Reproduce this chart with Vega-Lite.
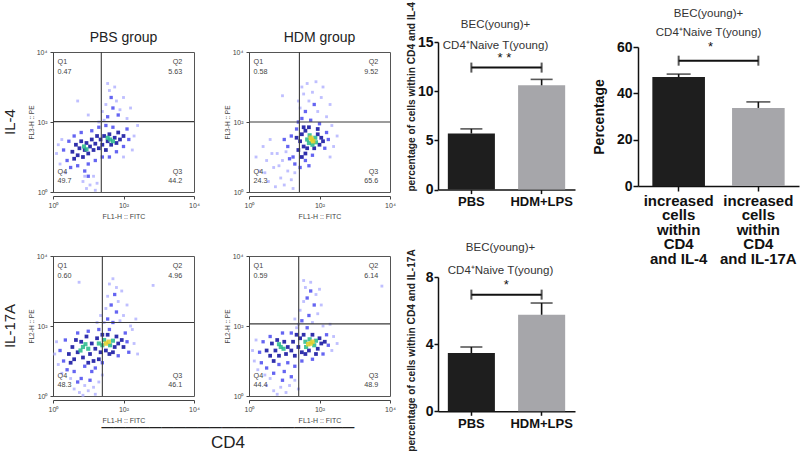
{
  "$schema": "https://vega.github.io/schema/vega-lite/v6.json",
  "background": "white",
  "padding": {"left": 3, "top": 0, "right": 2, "bottom": 2},
  "config": {
    "font": "Liberation Sans",
    "view": {"stroke": "#555", "strokeWidth": 1},
    "axis": {"grid": false}
  },
  "resolve": {"scale": {"color": "independent", "size": "independent"}},
  "datasets": {
    "cells": [
      {"group":"PBS group","marker":"IL-4","gate":"v","fitc":1.37},
      {"group":"PBS group","marker":"IL-4","gate":"h","pe":2.01},
      {"group":"HDM group","marker":"IL-4","gate":"v","fitc":1.43},
      {"group":"HDM group","marker":"IL-4","gate":"h","pe":2.0},
      {"group":"PBS group","marker":"IL-17A","gate":"v","fitc":1.4},
      {"group":"PBS group","marker":"IL-17A","gate":"h","pe":2.1},
      {"group":"HDM group","marker":"IL-17A","gate":"v","fitc":1.41},
      {"group":"HDM group","marker":"IL-17A","gate":"h","pe":2.06},
      {"group":"PBS group","marker":"IL-4","quad":"Q1","pct":"0.47"},
      {"group":"PBS group","marker":"IL-4","quad":"Q2","pct":"5.63"},
      {"group":"PBS group","marker":"IL-4","quad":"Q3","pct":"44.2"},
      {"group":"PBS group","marker":"IL-4","quad":"Q4","pct":"49.7"},
      {"group":"HDM group","marker":"IL-4","quad":"Q1","pct":"0.58"},
      {"group":"HDM group","marker":"IL-4","quad":"Q2","pct":"9.52"},
      {"group":"HDM group","marker":"IL-4","quad":"Q3","pct":"65.6"},
      {"group":"HDM group","marker":"IL-4","quad":"Q4","pct":"24.3"},
      {"group":"PBS group","marker":"IL-17A","quad":"Q1","pct":"0.60"},
      {"group":"PBS group","marker":"IL-17A","quad":"Q2","pct":"4.96"},
      {"group":"PBS group","marker":"IL-17A","quad":"Q3","pct":"46.1"},
      {"group":"PBS group","marker":"IL-17A","quad":"Q4","pct":"48.3"},
      {"group":"HDM group","marker":"IL-17A","quad":"Q1","pct":"0.59"},
      {"group":"HDM group","marker":"IL-17A","quad":"Q2","pct":"6.14"},
      {"group":"HDM group","marker":"IL-17A","quad":"Q3","pct":"48.9"},
      {"group":"HDM group","marker":"IL-17A","quad":"Q4","pct":"44.4"},

      {"group":"PBS group","marker":"IL-4","fitc":1.45,"pe":2.05,"dens":0},
      {"group":"PBS group","marker":"IL-4","fitc":1.5,"pe":2.5,"dens":0},
      {"group":"PBS group","marker":"IL-4","fitc":1.6,"pe":2.9,"dens":0},
      {"group":"PBS group","marker":"IL-4","fitc":1.75,"pe":3.0,"dens":0},
      {"group":"PBS group","marker":"IL-4","fitc":1.8,"pe":2.6,"dens":0},
      {"group":"PBS group","marker":"IL-4","fitc":1.9,"pe":2.35,"dens":0},
      {"group":"PBS group","marker":"IL-4","fitc":2.0,"pe":2.7,"dens":0},
      {"group":"PBS group","marker":"IL-4","fitc":2.1,"pe":2.1,"dens":0},
      {"group":"PBS group","marker":"IL-4","fitc":1.55,"pe":3.1,"dens":0},
      {"group":"PBS group","marker":"IL-4","fitc":1.4,"pe":2.3,"dens":0},
      {"group":"PBS group","marker":"IL-4","fitc":2.2,"pe":2.4,"dens":0},
      {"group":"PBS group","marker":"IL-4","fitc":1.3,"pe":2.0,"dens":0},
      {"group":"PBS group","marker":"IL-4","fitc":0.85,"pe":0.3,"dens":0},
      {"group":"PBS group","marker":"IL-4","fitc":0.95,"pe":0.1,"dens":0},
      {"group":"PBS group","marker":"IL-4","fitc":1.05,"pe":0.2,"dens":0},
      {"group":"PBS group","marker":"IL-4","fitc":1.15,"pe":0.45,"dens":0},
      {"group":"PBS group","marker":"IL-4","fitc":1.25,"pe":0.25,"dens":0},
      {"group":"PBS group","marker":"IL-4","fitc":0.9,"pe":0.45,"dens":0},
      {"group":"PBS group","marker":"IL-4","fitc":1.2,"pe":0.05,"dens":0},
      {"group":"PBS group","marker":"IL-4","fitc":0.1,"pe":1.1,"dens":0},
      {"group":"PBS group","marker":"IL-4","fitc":0.2,"pe":0.8,"dens":0},
      {"group":"PBS group","marker":"IL-4","fitc":0.25,"pe":1.5,"dens":0},
      {"group":"PBS group","marker":"IL-4","fitc":0.35,"pe":0.55,"dens":0},
      {"group":"PBS group","marker":"IL-4","fitc":0.15,"pe":1.35,"dens":0},
      {"group":"PBS group","marker":"IL-4","fitc":2.3,"pe":1.6,"dens":0},
      {"group":"PBS group","marker":"IL-4","fitc":2.25,"pe":1.2,"dens":0},
      {"group":"PBS group","marker":"IL-4","fitc":2.4,"pe":1.9,"dens":0},
      {"group":"PBS group","marker":"IL-4","fitc":2.0,"pe":1.0,"dens":0},
      {"group":"PBS group","marker":"IL-4","fitc":0.7,"pe":2.6,"dens":0},
      {"group":"PBS group","marker":"IL-4","fitc":1.0,"pe":2.2,"dens":0},
      {"group":"PBS group","marker":"IL-4","fitc":0.3,"pe":1.2,"dens":1},
      {"group":"PBS group","marker":"IL-4","fitc":0.4,"pe":0.9,"dens":1},
      {"group":"PBS group","marker":"IL-4","fitc":0.45,"pe":1.45,"dens":1},
      {"group":"PBS group","marker":"IL-4","fitc":0.5,"pe":0.7,"dens":1},
      {"group":"PBS group","marker":"IL-4","fitc":0.6,"pe":1.6,"dens":1},
      {"group":"PBS group","marker":"IL-4","fitc":0.7,"pe":0.75,"dens":1},
      {"group":"PBS group","marker":"IL-4","fitc":0.8,"pe":1.7,"dens":1},
      {"group":"PBS group","marker":"IL-4","fitc":0.9,"pe":0.6,"dens":1},
      {"group":"PBS group","marker":"IL-4","fitc":1.0,"pe":0.8,"dens":1},
      {"group":"PBS group","marker":"IL-4","fitc":1.1,"pe":1.75,"dens":1},
      {"group":"PBS group","marker":"IL-4","fitc":1.2,"pe":0.9,"dens":1},
      {"group":"PBS group","marker":"IL-4","fitc":1.3,"pe":1.85,"dens":1},
      {"group":"PBS group","marker":"IL-4","fitc":1.4,"pe":1.0,"dens":1},
      {"group":"PBS group","marker":"IL-4","fitc":1.6,"pe":1.0,"dens":1},
      {"group":"PBS group","marker":"IL-4","fitc":1.7,"pe":1.85,"dens":1},
      {"group":"PBS group","marker":"IL-4","fitc":1.8,"pe":1.15,"dens":1},
      {"group":"PBS group","marker":"IL-4","fitc":2.0,"pe":1.3,"dens":1},
      {"group":"PBS group","marker":"IL-4","fitc":2.1,"pe":1.8,"dens":1},
      {"group":"PBS group","marker":"IL-4","fitc":2.15,"pe":1.5,"dens":1},
      {"group":"PBS group","marker":"IL-4","fitc":1.5,"pe":1.9,"dens":1},
      {"group":"PBS group","marker":"IL-4","fitc":1.55,"pe":2.15,"dens":1},
      {"group":"PBS group","marker":"IL-4","fitc":1.7,"pe":2.4,"dens":1},
      {"group":"PBS group","marker":"IL-4","fitc":1.85,"pe":2.2,"dens":1},
      {"group":"PBS group","marker":"IL-4","fitc":1.65,"pe":2.7,"dens":1},
      {"group":"PBS group","marker":"IL-4","fitc":1.0,"pe":0.45,"dens":1},
      {"group":"PBS group","marker":"IL-4","fitc":0.55,"pe":1.15,"dens":2},
      {"group":"PBS group","marker":"IL-4","fitc":0.65,"pe":1.35,"dens":2},
      {"group":"PBS group","marker":"IL-4","fitc":0.7,"pe":1.05,"dens":2},
      {"group":"PBS group","marker":"IL-4","fitc":0.75,"pe":1.25,"dens":2},
      {"group":"PBS group","marker":"IL-4","fitc":0.8,"pe":1.45,"dens":2},
      {"group":"PBS group","marker":"IL-4","fitc":0.85,"pe":1.0,"dens":2},
      {"group":"PBS group","marker":"IL-4","fitc":0.9,"pe":1.2,"dens":2},
      {"group":"PBS group","marker":"IL-4","fitc":0.95,"pe":1.4,"dens":2},
      {"group":"PBS group","marker":"IL-4","fitc":1.0,"pe":1.1,"dens":2},
      {"group":"PBS group","marker":"IL-4","fitc":1.05,"pe":1.3,"dens":2},
      {"group":"PBS group","marker":"IL-4","fitc":1.1,"pe":1.5,"dens":2},
      {"group":"PBS group","marker":"IL-4","fitc":1.15,"pe":1.2,"dens":2},
      {"group":"PBS group","marker":"IL-4","fitc":1.2,"pe":1.38,"dens":2},
      {"group":"PBS group","marker":"IL-4","fitc":1.3,"pe":1.25,"dens":2},
      {"group":"PBS group","marker":"IL-4","fitc":1.35,"pe":1.5,"dens":2},
      {"group":"PBS group","marker":"IL-4","fitc":1.4,"pe":1.35,"dens":2},
      {"group":"PBS group","marker":"IL-4","fitc":1.45,"pe":1.6,"dens":2},
      {"group":"PBS group","marker":"IL-4","fitc":1.5,"pe":1.2,"dens":2},
      {"group":"PBS group","marker":"IL-4","fitc":1.55,"pe":1.45,"dens":2},
      {"group":"PBS group","marker":"IL-4","fitc":1.6,"pe":1.65,"dens":2},
      {"group":"PBS group","marker":"IL-4","fitc":1.65,"pe":1.35,"dens":2},
      {"group":"PBS group","marker":"IL-4","fitc":1.75,"pe":1.55,"dens":2},
      {"group":"PBS group","marker":"IL-4","fitc":1.8,"pe":1.4,"dens":2},
      {"group":"PBS group","marker":"IL-4","fitc":1.85,"pe":1.7,"dens":2},
      {"group":"PBS group","marker":"IL-4","fitc":1.9,"pe":1.5,"dens":2},
      {"group":"PBS group","marker":"IL-4","fitc":2.0,"pe":1.6,"dens":2},
      {"group":"PBS group","marker":"IL-4","fitc":1.25,"pe":1.6,"dens":2},
      {"group":"PBS group","marker":"IL-4","fitc":0.6,"pe":0.95,"dens":2},
      {"group":"PBS group","marker":"IL-4","fitc":0.88,"pe":1.3,"dens":3},
      {"group":"PBS group","marker":"IL-4","fitc":0.95,"pe":1.22,"dens":3},
      {"group":"PBS group","marker":"IL-4","fitc":1.62,"pe":1.5,"dens":3},
      {"group":"PBS group","marker":"IL-4","fitc":1.7,"pe":1.45,"dens":3},
      {"group":"PBS group","marker":"IL-4","fitc":1.55,"pe":1.55,"dens":3},

      {"group":"HDM group","marker":"IL-4","fitc":1.45,"pe":2.4,"dens":0},
      {"group":"HDM group","marker":"IL-4","fitc":1.55,"pe":2.8,"dens":0},
      {"group":"HDM group","marker":"IL-4","fitc":1.65,"pe":3.1,"dens":0},
      {"group":"HDM group","marker":"IL-4","fitc":1.8,"pe":2.85,"dens":0},
      {"group":"HDM group","marker":"IL-4","fitc":1.95,"pe":2.3,"dens":0},
      {"group":"HDM group","marker":"IL-4","fitc":2.05,"pe":2.7,"dens":0},
      {"group":"HDM group","marker":"IL-4","fitc":2.2,"pe":2.15,"dens":0},
      {"group":"HDM group","marker":"IL-4","fitc":1.7,"pe":2.6,"dens":0},
      {"group":"HDM group","marker":"IL-4","fitc":1.5,"pe":3.0,"dens":0},
      {"group":"HDM group","marker":"IL-4","fitc":2.1,"pe":3.0,"dens":0},
      {"group":"HDM group","marker":"IL-4","fitc":1.4,"pe":2.6,"dens":0},
      {"group":"HDM group","marker":"IL-4","fitc":2.3,"pe":2.5,"dens":0},
      {"group":"HDM group","marker":"IL-4","fitc":1.9,"pe":3.15,"dens":0},
      {"group":"HDM group","marker":"IL-4","fitc":0.2,"pe":1.0,"dens":0},
      {"group":"HDM group","marker":"IL-4","fitc":0.3,"pe":0.6,"dens":0},
      {"group":"HDM group","marker":"IL-4","fitc":0.4,"pe":1.3,"dens":0},
      {"group":"HDM group","marker":"IL-4","fitc":0.5,"pe":0.9,"dens":0},
      {"group":"HDM group","marker":"IL-4","fitc":0.55,"pe":0.3,"dens":0},
      {"group":"HDM group","marker":"IL-4","fitc":0.6,"pe":1.5,"dens":0},
      {"group":"HDM group","marker":"IL-4","fitc":0.7,"pe":0.7,"dens":0},
      {"group":"HDM group","marker":"IL-4","fitc":0.75,"pe":0.15,"dens":0},
      {"group":"HDM group","marker":"IL-4","fitc":0.8,"pe":1.1,"dens":0},
      {"group":"HDM group","marker":"IL-4","fitc":0.9,"pe":0.4,"dens":0},
      {"group":"HDM group","marker":"IL-4","fitc":0.95,"pe":0.9,"dens":0},
      {"group":"HDM group","marker":"IL-4","fitc":1.0,"pe":0.2,"dens":0},
      {"group":"HDM group","marker":"IL-4","fitc":1.05,"pe":1.15,"dens":0},
      {"group":"HDM group","marker":"IL-4","fitc":1.1,"pe":0.6,"dens":0},
      {"group":"HDM group","marker":"IL-4","fitc":1.2,"pe":0.35,"dens":0},
      {"group":"HDM group","marker":"IL-4","fitc":1.25,"pe":0.1,"dens":0},
      {"group":"HDM group","marker":"IL-4","fitc":0.65,"pe":1.1,"dens":0},
      {"group":"HDM group","marker":"IL-4","fitc":0.45,"pe":0.55,"dens":0},
      {"group":"HDM group","marker":"IL-4","fitc":0.85,"pe":0.75,"dens":0},
      {"group":"HDM group","marker":"IL-4","fitc":1.3,"pe":0.55,"dens":0},
      {"group":"HDM group","marker":"IL-4","fitc":2.4,"pe":1.3,"dens":0},
      {"group":"HDM group","marker":"IL-4","fitc":2.35,"pe":1.9,"dens":0},
      {"group":"HDM group","marker":"IL-4","fitc":2.5,"pe":1.6,"dens":0},
      {"group":"HDM group","marker":"IL-4","fitc":2.3,"pe":1.0,"dens":0},
      {"group":"HDM group","marker":"IL-4","fitc":0.95,"pe":2.75,"dens":0},
      {"group":"HDM group","marker":"IL-4","fitc":1.1,"pe":1.3,"dens":1},
      {"group":"HDM group","marker":"IL-4","fitc":1.2,"pe":1.6,"dens":1},
      {"group":"HDM group","marker":"IL-4","fitc":1.25,"pe":1.0,"dens":1},
      {"group":"HDM group","marker":"IL-4","fitc":1.3,"pe":0.8,"dens":1},
      {"group":"HDM group","marker":"IL-4","fitc":1.35,"pe":1.8,"dens":1},
      {"group":"HDM group","marker":"IL-4","fitc":1.45,"pe":0.7,"dens":1},
      {"group":"HDM group","marker":"IL-4","fitc":1.6,"pe":0.9,"dens":1},
      {"group":"HDM group","marker":"IL-4","fitc":1.8,"pe":1.05,"dens":1},
      {"group":"HDM group","marker":"IL-4","fitc":2.15,"pe":1.25,"dens":1},
      {"group":"HDM group","marker":"IL-4","fitc":2.2,"pe":1.7,"dens":1},
      {"group":"HDM group","marker":"IL-4","fitc":2.0,"pe":1.95,"dens":1},
      {"group":"HDM group","marker":"IL-4","fitc":1.75,"pe":2.05,"dens":1},
      {"group":"HDM group","marker":"IL-4","fitc":1.6,"pe":2.3,"dens":1},
      {"group":"HDM group","marker":"IL-4","fitc":1.85,"pe":2.5,"dens":1},
      {"group":"HDM group","marker":"IL-4","fitc":1.5,"pe":2.1,"dens":1},
      {"group":"HDM group","marker":"IL-4","fitc":1.0,"pe":1.5,"dens":1},
      {"group":"HDM group","marker":"IL-4","fitc":1.15,"pe":0.95,"dens":1},
      {"group":"HDM group","marker":"IL-4","fitc":2.25,"pe":1.5,"dens":1},
      {"group":"HDM group","marker":"IL-4","fitc":1.4,"pe":2.0,"dens":1},
      {"group":"HDM group","marker":"IL-4","fitc":1.7,"pe":0.75,"dens":1},
      {"group":"HDM group","marker":"IL-4","fitc":1.4,"pe":1.2,"dens":2},
      {"group":"HDM group","marker":"IL-4","fitc":1.45,"pe":1.45,"dens":2},
      {"group":"HDM group","marker":"IL-4","fitc":1.5,"pe":1.65,"dens":2},
      {"group":"HDM group","marker":"IL-4","fitc":1.55,"pe":1.3,"dens":2},
      {"group":"HDM group","marker":"IL-4","fitc":1.6,"pe":1.1,"dens":2},
      {"group":"HDM group","marker":"IL-4","fitc":1.6,"pe":1.75,"dens":2},
      {"group":"HDM group","marker":"IL-4","fitc":1.65,"pe":1.25,"dens":2},
      {"group":"HDM group","marker":"IL-4","fitc":1.7,"pe":1.85,"dens":2},
      {"group":"HDM group","marker":"IL-4","fitc":1.85,"pe":1.25,"dens":2},
      {"group":"HDM group","marker":"IL-4","fitc":1.95,"pe":1.65,"dens":2},
      {"group":"HDM group","marker":"IL-4","fitc":2.0,"pe":1.35,"dens":2},
      {"group":"HDM group","marker":"IL-4","fitc":2.05,"pe":1.55,"dens":2},
      {"group":"HDM group","marker":"IL-4","fitc":1.5,"pe":1.0,"dens":2},
      {"group":"HDM group","marker":"IL-4","fitc":1.95,"pe":1.8,"dens":2},
      {"group":"HDM group","marker":"IL-4","fitc":2.1,"pe":1.45,"dens":2},
      {"group":"HDM group","marker":"IL-4","fitc":1.35,"pe":1.55,"dens":2},
      {"group":"HDM group","marker":"IL-4","fitc":1.55,"pe":1.85,"dens":2},
      {"group":"HDM group","marker":"IL-4","fitc":1.7,"pe":1.4,"dens":3},
      {"group":"HDM group","marker":"IL-4","fitc":1.88,"pe":1.55,"dens":3},
      {"group":"HDM group","marker":"IL-4","fitc":1.8,"pe":1.35,"dens":3},
      {"group":"HDM group","marker":"IL-4","fitc":1.72,"pe":1.62,"dens":3},
      {"group":"HDM group","marker":"IL-4","fitc":1.9,"pe":1.42,"dens":3},
      {"group":"HDM group","marker":"IL-4","fitc":1.65,"pe":1.5,"dens":3},
      {"group":"HDM group","marker":"IL-4","fitc":1.78,"pe":1.5,"dens":4},
      {"group":"HDM group","marker":"IL-4","fitc":1.82,"pe":1.45,"dens":4},
      {"group":"HDM group","marker":"IL-4","fitc":1.75,"pe":1.55,"dens":4},

      {"group":"PBS group","marker":"IL-17A","fitc":1.45,"pe":2.1,"dens":0},
      {"group":"PBS group","marker":"IL-17A","fitc":1.5,"pe":2.5,"dens":0},
      {"group":"PBS group","marker":"IL-17A","fitc":1.6,"pe":3.2,"dens":0},
      {"group":"PBS group","marker":"IL-17A","fitc":1.7,"pe":3.35,"dens":0},
      {"group":"PBS group","marker":"IL-17A","fitc":1.85,"pe":2.7,"dens":0},
      {"group":"PBS group","marker":"IL-17A","fitc":1.95,"pe":3.0,"dens":0},
      {"group":"PBS group","marker":"IL-17A","fitc":2.0,"pe":2.3,"dens":0},
      {"group":"PBS group","marker":"IL-17A","fitc":2.1,"pe":2.6,"dens":0},
      {"group":"PBS group","marker":"IL-17A","fitc":1.9,"pe":2.15,"dens":0},
      {"group":"PBS group","marker":"IL-17A","fitc":1.55,"pe":2.85,"dens":0},
      {"group":"PBS group","marker":"IL-17A","fitc":1.35,"pe":2.3,"dens":0},
      {"group":"PBS group","marker":"IL-17A","fitc":2.2,"pe":2.0,"dens":0},
      {"group":"PBS group","marker":"IL-17A","fitc":1.8,"pe":3.1,"dens":0},
      {"group":"PBS group","marker":"IL-17A","fitc":1.25,"pe":2.1,"dens":0},
      {"group":"PBS group","marker":"IL-17A","fitc":0.6,"pe":0.2,"dens":0},
      {"group":"PBS group","marker":"IL-17A","fitc":0.75,"pe":0.1,"dens":0},
      {"group":"PBS group","marker":"IL-17A","fitc":0.9,"pe":0.3,"dens":0},
      {"group":"PBS group","marker":"IL-17A","fitc":1.0,"pe":0.15,"dens":0},
      {"group":"PBS group","marker":"IL-17A","fitc":1.15,"pe":0.25,"dens":0},
      {"group":"PBS group","marker":"IL-17A","fitc":1.3,"pe":0.4,"dens":0},
      {"group":"PBS group","marker":"IL-17A","fitc":1.4,"pe":0.6,"dens":0},
      {"group":"PBS group","marker":"IL-17A","fitc":0.85,"pe":0.02,"dens":0},
      {"group":"PBS group","marker":"IL-17A","fitc":0.5,"pe":0.5,"dens":0},
      {"group":"PBS group","marker":"IL-17A","fitc":1.2,"pe":0.05,"dens":0},
      {"group":"PBS group","marker":"IL-17A","fitc":0.05,"pe":1.2,"dens":0},
      {"group":"PBS group","marker":"IL-17A","fitc":0.1,"pe":1.55,"dens":0},
      {"group":"PBS group","marker":"IL-17A","fitc":0.15,"pe":0.9,"dens":0},
      {"group":"PBS group","marker":"IL-17A","fitc":0.25,"pe":0.65,"dens":0},
      {"group":"PBS group","marker":"IL-17A","fitc":2.3,"pe":1.5,"dens":0},
      {"group":"PBS group","marker":"IL-17A","fitc":2.25,"pe":1.9,"dens":0},
      {"group":"PBS group","marker":"IL-17A","fitc":2.4,"pe":1.2,"dens":0},
      {"group":"PBS group","marker":"IL-17A","fitc":2.35,"pe":2.2,"dens":0},
      {"group":"PBS group","marker":"IL-17A","fitc":2.84,"pe":3.16,"dens":0},
      {"group":"PBS group","marker":"IL-17A","fitc":0.74,"pe":3.25,"dens":0},
      {"group":"PBS group","marker":"IL-17A","fitc":0.2,"pe":1.3,"dens":1},
      {"group":"PBS group","marker":"IL-17A","fitc":0.3,"pe":1.0,"dens":1},
      {"group":"PBS group","marker":"IL-17A","fitc":0.35,"pe":1.6,"dens":1},
      {"group":"PBS group","marker":"IL-17A","fitc":0.4,"pe":0.75,"dens":1},
      {"group":"PBS group","marker":"IL-17A","fitc":0.6,"pe":0.7,"dens":1},
      {"group":"PBS group","marker":"IL-17A","fitc":0.7,"pe":1.8,"dens":1},
      {"group":"PBS group","marker":"IL-17A","fitc":0.8,"pe":0.5,"dens":1},
      {"group":"PBS group","marker":"IL-17A","fitc":0.9,"pe":0.85,"dens":1},
      {"group":"PBS group","marker":"IL-17A","fitc":1.0,"pe":1.85,"dens":1},
      {"group":"PBS group","marker":"IL-17A","fitc":1.1,"pe":0.7,"dens":1},
      {"group":"PBS group","marker":"IL-17A","fitc":1.2,"pe":0.8,"dens":1},
      {"group":"PBS group","marker":"IL-17A","fitc":1.3,"pe":1.9,"dens":1},
      {"group":"PBS group","marker":"IL-17A","fitc":1.4,"pe":0.95,"dens":1},
      {"group":"PBS group","marker":"IL-17A","fitc":1.6,"pe":1.9,"dens":1},
      {"group":"PBS group","marker":"IL-17A","fitc":1.7,"pe":2.1,"dens":1},
      {"group":"PBS group","marker":"IL-17A","fitc":1.85,"pe":1.15,"dens":1},
      {"group":"PBS group","marker":"IL-17A","fitc":2.05,"pe":1.8,"dens":1},
      {"group":"PBS group","marker":"IL-17A","fitc":2.1,"pe":1.55,"dens":1},
      {"group":"PBS group","marker":"IL-17A","fitc":2.15,"pe":1.25,"dens":1},
      {"group":"PBS group","marker":"IL-17A","fitc":1.55,"pe":2.2,"dens":1},
      {"group":"PBS group","marker":"IL-17A","fitc":1.8,"pe":2.4,"dens":1},
      {"group":"PBS group","marker":"IL-17A","fitc":1.65,"pe":2.6,"dens":1},
      {"group":"PBS group","marker":"IL-17A","fitc":1.75,"pe":2.9,"dens":1},
      {"group":"PBS group","marker":"IL-17A","fitc":0.7,"pe":0.4,"dens":1},
      {"group":"PBS group","marker":"IL-17A","fitc":1.05,"pe":0.45,"dens":1},
      {"group":"PBS group","marker":"IL-17A","fitc":0.45,"pe":1.2,"dens":2},
      {"group":"PBS group","marker":"IL-17A","fitc":0.55,"pe":1.4,"dens":2},
      {"group":"PBS group","marker":"IL-17A","fitc":0.6,"pe":1.05,"dens":2},
      {"group":"PBS group","marker":"IL-17A","fitc":0.65,"pe":1.6,"dens":2},
      {"group":"PBS group","marker":"IL-17A","fitc":0.7,"pe":1.25,"dens":2},
      {"group":"PBS group","marker":"IL-17A","fitc":0.8,"pe":1.55,"dens":2},
      {"group":"PBS group","marker":"IL-17A","fitc":0.85,"pe":1.1,"dens":2},
      {"group":"PBS group","marker":"IL-17A","fitc":0.95,"pe":1.7,"dens":2},
      {"group":"PBS group","marker":"IL-17A","fitc":1.05,"pe":1.2,"dens":2},
      {"group":"PBS group","marker":"IL-17A","fitc":1.1,"pe":1.5,"dens":2},
      {"group":"PBS group","marker":"IL-17A","fitc":1.15,"pe":1.0,"dens":2},
      {"group":"PBS group","marker":"IL-17A","fitc":1.2,"pe":1.35,"dens":2},
      {"group":"PBS group","marker":"IL-17A","fitc":1.25,"pe":1.65,"dens":2},
      {"group":"PBS group","marker":"IL-17A","fitc":1.35,"pe":1.25,"dens":2},
      {"group":"PBS group","marker":"IL-17A","fitc":1.4,"pe":1.75,"dens":2},
      {"group":"PBS group","marker":"IL-17A","fitc":1.5,"pe":1.3,"dens":2},
      {"group":"PBS group","marker":"IL-17A","fitc":1.55,"pe":1.75,"dens":2},
      {"group":"PBS group","marker":"IL-17A","fitc":1.6,"pe":1.2,"dens":2},
      {"group":"PBS group","marker":"IL-17A","fitc":1.75,"pe":1.4,"dens":2},
      {"group":"PBS group","marker":"IL-17A","fitc":1.8,"pe":1.7,"dens":2},
      {"group":"PBS group","marker":"IL-17A","fitc":1.85,"pe":1.5,"dens":2},
      {"group":"PBS group","marker":"IL-17A","fitc":1.95,"pe":1.6,"dens":2},
      {"group":"PBS group","marker":"IL-17A","fitc":2.0,"pe":1.4,"dens":2},
      {"group":"PBS group","marker":"IL-17A","fitc":1.0,"pe":0.95,"dens":2},
      {"group":"PBS group","marker":"IL-17A","fitc":1.3,"pe":1.05,"dens":2},
      {"group":"PBS group","marker":"IL-17A","fitc":0.5,"pe":0.95,"dens":2},
      {"group":"PBS group","marker":"IL-17A","fitc":1.7,"pe":1.25,"dens":2},
      {"group":"PBS group","marker":"IL-17A","fitc":0.85,"pe":1.4,"dens":3},
      {"group":"PBS group","marker":"IL-17A","fitc":0.92,"pe":1.48,"dens":3},
      {"group":"PBS group","marker":"IL-17A","fitc":1.0,"pe":1.35,"dens":3},
      {"group":"PBS group","marker":"IL-17A","fitc":1.4,"pe":1.45,"dens":3},
      {"group":"PBS group","marker":"IL-17A","fitc":1.45,"pe":1.6,"dens":3},
      {"group":"PBS group","marker":"IL-17A","fitc":1.62,"pe":1.45,"dens":3},
      {"group":"PBS group","marker":"IL-17A","fitc":1.7,"pe":1.58,"dens":3},
      {"group":"PBS group","marker":"IL-17A","fitc":1.3,"pe":1.5,"dens":3},
      {"group":"PBS group","marker":"IL-17A","fitc":0.78,"pe":1.3,"dens":3},
      {"group":"PBS group","marker":"IL-17A","fitc":1.5,"pe":1.5,"dens":4},
      {"group":"PBS group","marker":"IL-17A","fitc":1.58,"pe":1.55,"dens":4},

      {"group":"HDM group","marker":"IL-17A","fitc":1.4,"pe":2.05,"dens":0},
      {"group":"HDM group","marker":"IL-17A","fitc":1.45,"pe":2.45,"dens":0},
      {"group":"HDM group","marker":"IL-17A","fitc":1.55,"pe":2.7,"dens":0},
      {"group":"HDM group","marker":"IL-17A","fitc":1.6,"pe":3.1,"dens":0},
      {"group":"HDM group","marker":"IL-17A","fitc":1.75,"pe":3.25,"dens":0},
      {"group":"HDM group","marker":"IL-17A","fitc":1.9,"pe":2.9,"dens":0},
      {"group":"HDM group","marker":"IL-17A","fitc":1.95,"pe":2.35,"dens":0},
      {"group":"HDM group","marker":"IL-17A","fitc":2.05,"pe":2.6,"dens":0},
      {"group":"HDM group","marker":"IL-17A","fitc":1.8,"pe":2.1,"dens":0},
      {"group":"HDM group","marker":"IL-17A","fitc":2.1,"pe":2.0,"dens":0},
      {"group":"HDM group","marker":"IL-17A","fitc":1.55,"pe":3.3,"dens":0},
      {"group":"HDM group","marker":"IL-17A","fitc":1.3,"pe":2.2,"dens":0},
      {"group":"HDM group","marker":"IL-17A","fitc":2.0,"pe":3.05,"dens":0},
      {"group":"HDM group","marker":"IL-17A","fitc":1.35,"pe":1.95,"dens":0},
      {"group":"HDM group","marker":"IL-17A","fitc":0.5,"pe":0.3,"dens":0},
      {"group":"HDM group","marker":"IL-17A","fitc":0.6,"pe":0.5,"dens":0},
      {"group":"HDM group","marker":"IL-17A","fitc":0.7,"pe":0.15,"dens":0},
      {"group":"HDM group","marker":"IL-17A","fitc":0.8,"pe":0.05,"dens":0},
      {"group":"HDM group","marker":"IL-17A","fitc":0.9,"pe":0.25,"dens":0},
      {"group":"HDM group","marker":"IL-17A","fitc":1.05,"pe":0.1,"dens":0},
      {"group":"HDM group","marker":"IL-17A","fitc":1.15,"pe":0.3,"dens":0},
      {"group":"HDM group","marker":"IL-17A","fitc":1.3,"pe":0.45,"dens":0},
      {"group":"HDM group","marker":"IL-17A","fitc":1.4,"pe":0.2,"dens":0},
      {"group":"HDM group","marker":"IL-17A","fitc":0.45,"pe":0.6,"dens":0},
      {"group":"HDM group","marker":"IL-17A","fitc":0.1,"pe":1.3,"dens":0},
      {"group":"HDM group","marker":"IL-17A","fitc":0.15,"pe":1.0,"dens":0},
      {"group":"HDM group","marker":"IL-17A","fitc":0.2,"pe":1.6,"dens":0},
      {"group":"HDM group","marker":"IL-17A","fitc":0.25,"pe":0.75,"dens":0},
      {"group":"HDM group","marker":"IL-17A","fitc":2.35,"pe":1.3,"dens":0},
      {"group":"HDM group","marker":"IL-17A","fitc":2.4,"pe":1.7,"dens":0},
      {"group":"HDM group","marker":"IL-17A","fitc":2.5,"pe":1.5,"dens":0},
      {"group":"HDM group","marker":"IL-17A","fitc":2.3,"pe":2.05,"dens":0},
      {"group":"HDM group","marker":"IL-17A","fitc":3.77,"pe":3.14,"dens":0},
      {"group":"HDM group","marker":"IL-17A","fitc":0.3,"pe":1.25,"dens":1},
      {"group":"HDM group","marker":"IL-17A","fitc":0.35,"pe":0.95,"dens":1},
      {"group":"HDM group","marker":"IL-17A","fitc":0.4,"pe":1.55,"dens":1},
      {"group":"HDM group","marker":"IL-17A","fitc":0.5,"pe":0.8,"dens":1},
      {"group":"HDM group","marker":"IL-17A","fitc":0.6,"pe":1.7,"dens":1},
      {"group":"HDM group","marker":"IL-17A","fitc":0.7,"pe":0.65,"dens":1},
      {"group":"HDM group","marker":"IL-17A","fitc":0.85,"pe":0.9,"dens":1},
      {"group":"HDM group","marker":"IL-17A","fitc":0.95,"pe":1.8,"dens":1},
      {"group":"HDM group","marker":"IL-17A","fitc":1.0,"pe":0.7,"dens":1},
      {"group":"HDM group","marker":"IL-17A","fitc":1.1,"pe":0.95,"dens":1},
      {"group":"HDM group","marker":"IL-17A","fitc":1.2,"pe":1.8,"dens":1},
      {"group":"HDM group","marker":"IL-17A","fitc":1.3,"pe":0.85,"dens":1},
      {"group":"HDM group","marker":"IL-17A","fitc":1.5,"pe":1.0,"dens":1},
      {"group":"HDM group","marker":"IL-17A","fitc":1.65,"pe":1.95,"dens":1},
      {"group":"HDM group","marker":"IL-17A","fitc":1.8,"pe":1.05,"dens":1},
      {"group":"HDM group","marker":"IL-17A","fitc":2.1,"pe":1.2,"dens":1},
      {"group":"HDM group","marker":"IL-17A","fitc":2.25,"pe":1.45,"dens":1},
      {"group":"HDM group","marker":"IL-17A","fitc":2.2,"pe":1.75,"dens":1},
      {"group":"HDM group","marker":"IL-17A","fitc":1.5,"pe":2.15,"dens":1},
      {"group":"HDM group","marker":"IL-17A","fitc":1.7,"pe":2.3,"dens":1},
      {"group":"HDM group","marker":"IL-17A","fitc":1.85,"pe":2.6,"dens":1},
      {"group":"HDM group","marker":"IL-17A","fitc":1.65,"pe":2.8,"dens":1},
      {"group":"HDM group","marker":"IL-17A","fitc":1.75,"pe":3.0,"dens":1},
      {"group":"HDM group","marker":"IL-17A","fitc":0.95,"pe":0.45,"dens":1},
      {"group":"HDM group","marker":"IL-17A","fitc":1.2,"pe":0.55,"dens":1},
      {"group":"HDM group","marker":"IL-17A","fitc":0.5,"pe":1.3,"dens":2},
      {"group":"HDM group","marker":"IL-17A","fitc":0.6,"pe":1.15,"dens":2},
      {"group":"HDM group","marker":"IL-17A","fitc":0.65,"pe":1.5,"dens":2},
      {"group":"HDM group","marker":"IL-17A","fitc":0.75,"pe":1.3,"dens":2},
      {"group":"HDM group","marker":"IL-17A","fitc":0.8,"pe":1.6,"dens":2},
      {"group":"HDM group","marker":"IL-17A","fitc":0.85,"pe":1.15,"dens":2},
      {"group":"HDM group","marker":"IL-17A","fitc":1.0,"pe":1.55,"dens":2},
      {"group":"HDM group","marker":"IL-17A","fitc":1.05,"pe":1.2,"dens":2},
      {"group":"HDM group","marker":"IL-17A","fitc":1.1,"pe":1.4,"dens":2},
      {"group":"HDM group","marker":"IL-17A","fitc":1.2,"pe":1.3,"dens":2},
      {"group":"HDM group","marker":"IL-17A","fitc":1.25,"pe":1.55,"dens":2},
      {"group":"HDM group","marker":"IL-17A","fitc":1.3,"pe":1.15,"dens":2},
      {"group":"HDM group","marker":"IL-17A","fitc":1.4,"pe":1.4,"dens":2},
      {"group":"HDM group","marker":"IL-17A","fitc":1.45,"pe":1.65,"dens":2},
      {"group":"HDM group","marker":"IL-17A","fitc":1.5,"pe":1.25,"dens":2},
      {"group":"HDM group","marker":"IL-17A","fitc":1.55,"pe":1.75,"dens":2},
      {"group":"HDM group","marker":"IL-17A","fitc":1.6,"pe":1.2,"dens":2},
      {"group":"HDM group","marker":"IL-17A","fitc":1.7,"pe":1.3,"dens":2},
      {"group":"HDM group","marker":"IL-17A","fitc":1.8,"pe":1.75,"dens":2},
      {"group":"HDM group","marker":"IL-17A","fitc":1.95,"pe":1.35,"dens":2},
      {"group":"HDM group","marker":"IL-17A","fitc":2.0,"pe":1.65,"dens":2},
      {"group":"HDM group","marker":"IL-17A","fitc":2.05,"pe":1.5,"dens":2},
      {"group":"HDM group","marker":"IL-17A","fitc":2.15,"pe":1.55,"dens":2},
      {"group":"HDM group","marker":"IL-17A","fitc":1.9,"pe":1.2,"dens":2},
      {"group":"HDM group","marker":"IL-17A","fitc":0.7,"pe":1.0,"dens":2},
      {"group":"HDM group","marker":"IL-17A","fitc":1.35,"pe":1.75,"dens":2},
      {"group":"HDM group","marker":"IL-17A","fitc":0.9,"pe":1.4,"dens":3},
      {"group":"HDM group","marker":"IL-17A","fitc":0.98,"pe":1.35,"dens":3},
      {"group":"HDM group","marker":"IL-17A","fitc":1.6,"pe":1.55,"dens":3},
      {"group":"HDM group","marker":"IL-17A","fitc":1.85,"pe":1.45,"dens":3},
      {"group":"HDM group","marker":"IL-17A","fitc":1.72,"pe":1.62,"dens":3},
      {"group":"HDM group","marker":"IL-17A","fitc":1.9,"pe":1.58,"dens":3},
      {"group":"HDM group","marker":"IL-17A","fitc":1.62,"pe":1.4,"dens":3},
      {"group":"HDM group","marker":"IL-17A","fitc":0.85,"pe":1.48,"dens":3},
      {"group":"HDM group","marker":"IL-17A","fitc":1.75,"pe":1.5,"dens":4},
      {"group":"HDM group","marker":"IL-17A","fitc":1.8,"pe":1.55,"dens":4},
      {"group":"HDM group","marker":"IL-17A","fitc":1.68,"pe":1.48,"dens":4}
    ],
    "bars": [
      {"chart":"IL-4","group":"PBS","mean":5.7,"upper":6.17},
      {"chart":"IL-4","group":"HDM+LPS","mean":10.6,"upper":11.2},
      {"chart":"IL-17A","group":"PBS","mean":3.47,"upper":3.83},
      {"chart":"IL-17A","group":"HDM+LPS","mean":5.75,"upper":6.45},
      {"chart":"pct","group":"increased cells within CD4 and IL-4","mean":47.0,"upper":48.3},
      {"chart":"pct","group":"increased cells within CD4 and IL-17A","mean":33.7,"upper":36.3}
    ],
    "sig": [
      {"chart":"IL-4","from":"PBS","to":"HDM+LPS","bracket":12.4,"stars":"* *"},
      {"chart":"IL-17A","from":"PBS","to":"HDM+LPS","bracket":6.95,"stars":"*"},
      {"chart":"pct","from":"increased cells within CD4 and IL-4","to":"increased cells within CD4 and IL-17A","bracket":54.1,"stars":"*"}
    ]
  },
  "hconcat": [
    {
      "resolve": {"scale": {"color": "independent", "size": "independent"}},
      "vconcat": [
        {"data": {"values": []}, "mark": "point", "width": 1, "height": 1, "view": {"stroke": null}},
        {
          "resolve": {"scale": {"color": "independent", "size": "independent"}},
          "vconcat": [
            {
              "data": {"name": "cells"},
              "transform": [{"filter": "datum.marker == 'IL-4'"}],
              "facet": {
                "row": {"field": "marker", "type": "nominal", "header": {"title": null, "labelFontSize": 15, "labelColor": "#222", "labelPadding": 9}},
                "column": {"field": "group", "type": "nominal", "sort": ["PBS group", "HDM group"], "header": {"title": null, "labelFontSize": 14, "labelColor": "#222", "labelPadding": 2}}
              },
              "spacing": {"row": 0, "column": 27},
              "resolve": {"axis": {"y": "independent"}},
              "spec": {
                "width": 141,
                "height": 140,
                "layer": [
                  {
                    "transform": [{"filter": "isValid(datum.dens)"}],
                    "mark": {"type": "square", "opacity": 0.85},
                    "encoding": {
                      "x": {"field": "fitc", "type": "quantitative", "title": "FL1-H :: FITC", "scale": {"domain": [0, 4], "nice": false},
                        "axis": {"values": [0, 1, 2, 3, 4], "labelExpr": "'10' + ['⁰','¹','²','³','⁴'][datum.value]", "labelFontSize": 7, "labelColor": "#444", "labelFlush": false, "labelPadding": 2, "tickSize": 3, "tickColor": "#444", "domainColor": "#444", "titleFontSize": 7, "titleFontWeight": "normal", "titleColor": "#444", "titlePadding": 4}},
                      "y": {"field": "pe", "type": "quantitative", "title": "FL3-H :: PE", "scale": {"domain": [0, 4], "nice": false},
                        "axis": {"values": [0, 1, 2, 3, 4], "labelExpr": "'10' + ['⁰','¹','²','³','⁴'][datum.value]", "labelFontSize": 7, "labelColor": "#444", "labelFlush": false, "labelPadding": 3, "tickSize": 3, "tickColor": "#444", "domainColor": "#444", "titleFontSize": 6.5, "titleFontWeight": "normal", "titleColor": "#444", "titlePadding": 2}},
                      "color": {"field": "dens", "type": "ordinal", "scale": {"domain": [0, 1, 2, 3, 4], "range": ["#b4b4ff", "#4a4af0", "#0c0c9e", "#26b98a", "#e2cf2c"]}, "legend": null},
                      "size": {"field": "dens", "type": "ordinal", "scale": {"domain": [0, 1, 2, 3, 4], "range": [8, 20, 36, 36, 36]}, "legend": null}
                    }
                  },
                  {"transform": [{"filter": "datum.gate == 'v'"}], "mark": {"type": "rule", "color": "#3a3a3a", "strokeWidth": 1.1}, "encoding": {"x": {"field": "fitc", "type": "quantitative", "title": "FL1-H :: FITC"}}},
                  {"transform": [{"filter": "datum.gate == 'h'"}], "mark": {"type": "rule", "color": "#3a3a3a", "strokeWidth": 1.1}, "encoding": {"y": {"field": "pe", "type": "quantitative", "title": "FL3-H :: PE"}}},
                  {"transform": [{"filter": "datum.quad == 'Q1'"}, {"calculate": "[datum.quad, datum.pct]", "as": "lbl"}], "mark": {"type": "text", "align": "left", "baseline": "top", "fontSize": 7.2, "lineHeight": 9.6, "color": "#444"}, "encoding": {"x": {"datum": 0.13, "type": "quantitative"}, "y": {"datum": 3.83, "type": "quantitative"}, "text": {"field": "lbl"}}},
                  {"transform": [{"filter": "datum.quad == 'Q2'"}, {"calculate": "[datum.quad, datum.pct]", "as": "lbl"}], "mark": {"type": "text", "align": "right", "baseline": "top", "fontSize": 7.2, "lineHeight": 9.6, "color": "#444"}, "encoding": {"x": {"datum": 3.67, "type": "quantitative"}, "y": {"datum": 3.83, "type": "quantitative"}, "text": {"field": "lbl"}}},
                  {"transform": [{"filter": "datum.quad == 'Q3'"}, {"calculate": "[datum.quad, datum.pct]", "as": "lbl"}], "mark": {"type": "text", "align": "right", "baseline": "top", "fontSize": 7.2, "lineHeight": 9.6, "color": "#444"}, "encoding": {"x": {"datum": 3.67, "type": "quantitative"}, "y": {"datum": 0.69, "type": "quantitative"}, "text": {"field": "lbl"}}},
                  {"transform": [{"filter": "datum.quad == 'Q4'"}, {"calculate": "[datum.quad, datum.pct]", "as": "lbl"}], "mark": {"type": "text", "align": "left", "baseline": "top", "fontSize": 7.2, "lineHeight": 9.6, "color": "#444"}, "encoding": {"x": {"datum": 0.13, "type": "quantitative"}, "y": {"datum": 0.69, "type": "quantitative"}, "text": {"field": "lbl"}}}
                ]
              }
            },
            {
              "data": {"name": "cells"},
              "transform": [{"filter": "datum.marker == 'IL-17A'"}],
              "facet": {
                "row": {"field": "marker", "type": "nominal", "header": {"title": null, "labelFontSize": 15, "labelColor": "#222", "labelPadding": 9}},
                "column": {"field": "group", "type": "nominal", "sort": ["PBS group", "HDM group"], "header": {"labels": false, "title": ["\u200b\u2007\u2007\u2007\u2007─────────────────────", "\u200b\u2007\u2007\u2007\u2007CD4"], "titleOrient": "bottom", "titleFontSize": 17, "titleFontWeight": "normal", "titleColor": "#222", "titleLineHeight": 15, "titlePadding": -13}}
              },
              "spacing": {"row": 0, "column": 27},
              "resolve": {"axis": {"y": "independent"}},
              "spec": {
                "width": 141,
                "height": 140,
                "layer": [
                  {
                    "transform": [{"filter": "isValid(datum.dens)"}],
                    "mark": {"type": "square", "opacity": 0.85},
                    "encoding": {
                      "x": {"field": "fitc", "type": "quantitative", "title": "FL1-H :: FITC", "scale": {"domain": [0, 4], "nice": false},
                        "axis": {"values": [0, 1, 2, 3, 4], "labelExpr": "'10' + ['⁰','¹','²','³','⁴'][datum.value]", "labelFontSize": 7, "labelColor": "#444", "labelFlush": false, "labelPadding": 2, "tickSize": 3, "tickColor": "#444", "domainColor": "#444", "titleFontSize": 7, "titleFontWeight": "normal", "titleColor": "#444", "titlePadding": 4}},
                      "y": {"field": "pe", "type": "quantitative", "title": "FL2-H :: PE", "scale": {"domain": [0, 4], "nice": false},
                        "axis": {"values": [0, 1, 2, 3, 4], "labelExpr": "'10' + ['⁰','¹','²','³','⁴'][datum.value]", "labelFontSize": 7, "labelColor": "#444", "labelFlush": false, "labelPadding": 3, "tickSize": 3, "tickColor": "#444", "domainColor": "#444", "titleFontSize": 6.5, "titleFontWeight": "normal", "titleColor": "#444", "titlePadding": 2}},
                      "color": {"field": "dens", "type": "ordinal", "scale": {"domain": [0, 1, 2, 3, 4], "range": ["#b4b4ff", "#4a4af0", "#0c0c9e", "#26b98a", "#e2cf2c"]}, "legend": null},
                      "size": {"field": "dens", "type": "ordinal", "scale": {"domain": [0, 1, 2, 3, 4], "range": [8, 20, 36, 36, 36]}, "legend": null}
                    }
                  },
                  {"transform": [{"filter": "datum.gate == 'v'"}], "mark": {"type": "rule", "color": "#3a3a3a", "strokeWidth": 1.1}, "encoding": {"x": {"field": "fitc", "type": "quantitative", "title": "FL1-H :: FITC"}}},
                  {"transform": [{"filter": "datum.gate == 'h'"}], "mark": {"type": "rule", "color": "#3a3a3a", "strokeWidth": 1.1}, "encoding": {"y": {"field": "pe", "type": "quantitative", "title": "FL2-H :: PE"}}},
                  {"transform": [{"filter": "datum.quad == 'Q1'"}, {"calculate": "[datum.quad, datum.pct]", "as": "lbl"}], "mark": {"type": "text", "align": "left", "baseline": "top", "fontSize": 7.2, "lineHeight": 9.6, "color": "#444"}, "encoding": {"x": {"datum": 0.13, "type": "quantitative"}, "y": {"datum": 3.83, "type": "quantitative"}, "text": {"field": "lbl"}}},
                  {"transform": [{"filter": "datum.quad == 'Q2'"}, {"calculate": "[datum.quad, datum.pct]", "as": "lbl"}], "mark": {"type": "text", "align": "right", "baseline": "top", "fontSize": 7.2, "lineHeight": 9.6, "color": "#444"}, "encoding": {"x": {"datum": 3.67, "type": "quantitative"}, "y": {"datum": 3.83, "type": "quantitative"}, "text": {"field": "lbl"}}},
                  {"transform": [{"filter": "datum.quad == 'Q3'"}, {"calculate": "[datum.quad, datum.pct]", "as": "lbl"}], "mark": {"type": "text", "align": "right", "baseline": "top", "fontSize": 7.2, "lineHeight": 9.6, "color": "#444"}, "encoding": {"x": {"datum": 3.67, "type": "quantitative"}, "y": {"datum": 0.69, "type": "quantitative"}, "text": {"field": "lbl"}}},
                  {"transform": [{"filter": "datum.quad == 'Q4'"}, {"calculate": "[datum.quad, datum.pct]", "as": "lbl"}], "mark": {"type": "text", "align": "left", "baseline": "top", "fontSize": 7.2, "lineHeight": 9.6, "color": "#444"}, "encoding": {"x": {"datum": 0.13, "type": "quantitative"}, "y": {"datum": 0.69, "type": "quantitative"}, "text": {"field": "lbl"}}}
                ]
              }
            }
          ],
          "spacing": 32
        }
      ],
      "spacing": 30
    },
    {
      "resolve": {"scale": {"color": "independent"}},
      "hconcat": [
        {
          "resolve": {"scale": {"color": "independent"}},
          "vconcat": [
            {"data": {"values": []}, "mark": "point", "width": 1, "height": 1, "view": {"stroke": null}},
            {
              "resolve": {"scale": {"color": "independent"}},
              "vconcat": [
                {
                  "width": 137,
                  "height": 147.6,
                  "view": {"stroke": null},
                  "title": {"text": ["BEC(young)+", "CD4⁺Naive T(young)"], "fontSize": 11.5, "fontWeight": "normal", "color": "#333", "lineHeight": 21, "baseline": "bottom", "offset": -60.7, "dx": -11},
                  "layer": [
                    {
                      "data": {"name": "bars"},
                      "transform": [{"filter": "datum.chart == 'IL-4'"}],
                      "mark": {"type": "bar"},
                      "encoding": {
                        "x": {"field": "group", "type": "nominal", "title": null, "scale": {"domain": ["PBS", "HDM+LPS"], "paddingInner": 0.33, "paddingOuter": 0.14},
                          "axis": {"labelAngle": 0, "labelFontSize": 13, "labelFontWeight": "bold", "labelColor": "#111", "labelPadding": 2, "domainColor": "#111", "domainWidth": 1.5, "tickColor": "#111", "tickWidth": 1.5, "tickSize": 4}},
                        "y": {"field": "mean", "type": "quantitative", "title": "percentage of cells within CD4 and IL-4", "scale": {"domain": [0, 15], "nice": false},
                          "axis": {"values": [0, 5, 10, 15], "labelFontSize": 14, "labelFontWeight": "bold", "labelColor": "#111", "labelPadding": 1, "tickSize": 4, "tickWidth": 1.5, "tickColor": "#111", "domainColor": "#111", "domainWidth": 1.5, "titleFontSize": 10.2, "titleFontWeight": "bold", "titleColor": "#222", "titleX": -27, "titleY": 54.3, "titleBaseline": "middle"}},
                        "color": {"field": "group", "type": "nominal", "scale": {"domain": ["PBS", "HDM+LPS"], "range": ["#1e1e1e", "#a6a6aa"]}, "legend": null}
                      }
                    },
                    {
                      "data": {"name": "bars"},
                      "transform": [{"filter": "datum.chart == 'IL-4'"}],
                      "mark": {"type": "rule", "color": "#111", "strokeWidth": 1.6},
                      "encoding": {
                        "x": {"field": "group", "type": "nominal", "title": null},
                        "y": {"field": "mean", "type": "quantitative", "title": "percentage of cells within CD4 and IL-4"},
                        "y2": {"field": "upper"}
                      }
                    },
                    {
                      "data": {"name": "bars"},
                      "transform": [{"filter": "datum.chart == 'IL-4'"}],
                      "mark": {"type": "tick", "orient": "horizontal", "color": "#111", "thickness": 1.6, "size": 22},
                      "encoding": {
                        "x": {"field": "group", "type": "nominal", "title": null},
                        "y": {"field": "upper", "type": "quantitative", "title": "percentage of cells within CD4 and IL-4"}
                      }
                    },
                    {
                      "data": {"name": "sig"},
                      "transform": [{"filter": "datum.chart == 'IL-4'"}],
                      "mark": {"type": "rule", "color": "#111", "strokeWidth": 2},
                      "encoding": {
                        "x": {"field": "from", "type": "nominal", "title": null, "bandPosition": 0.5},
                        "x2": {"field": "to", "bandPosition": 0.5},
                        "y": {"field": "bracket", "type": "quantitative", "title": "percentage of cells within CD4 and IL-4"}
                      }
                    },
                    {
                      "data": {"name": "sig"},
                      "transform": [{"filter": "datum.chart == 'IL-4'"}],
                      "mark": {"type": "tick", "orient": "vertical", "color": "#111", "thickness": 2, "size": 10},
                      "encoding": {
                        "x": {"field": "from", "type": "nominal", "title": null},
                        "y": {"field": "bracket", "type": "quantitative", "title": "percentage of cells within CD4 and IL-4"}
                      }
                    },
                    {
                      "data": {"name": "sig"},
                      "transform": [{"filter": "datum.chart == 'IL-4'"}],
                      "mark": {"type": "tick", "orient": "vertical", "color": "#111", "thickness": 2, "size": 10},
                      "encoding": {
                        "x": {"field": "to", "type": "nominal", "title": null},
                        "y": {"field": "bracket", "type": "quantitative", "title": "percentage of cells within CD4 and IL-4"}
                      }
                    },
                    {
                      "data": {"name": "sig"},
                      "transform": [{"filter": "datum.chart == 'IL-4'"}],
                      "mark": {"type": "text", "fontSize": 13, "baseline": "alphabetic", "dx": 33, "dy": -6, "color": "#111"},
                      "encoding": {
                        "x": {"field": "from", "type": "nominal", "title": null},
                        "y": {"field": "bracket", "type": "quantitative", "title": "percentage of cells within CD4 and IL-4"},
                        "text": {"field": "stars"}
                      }
                    }
                  ]
                },
                {
                  "width": 137,
                  "height": 134.3,
                  "view": {"stroke": null},
                  "title": {"text": ["BEC(young)+", "CD4⁺Naive T(young)"], "fontSize": 11.5, "fontWeight": "normal", "color": "#333", "lineHeight": 23, "baseline": "bottom", "offset": -38.8, "dx": -6},
                  "layer": [
                    {
                      "data": {"name": "bars"},
                      "transform": [{"filter": "datum.chart == 'IL-17A'"}],
                      "mark": {"type": "bar"},
                      "encoding": {
                        "x": {"field": "group", "type": "nominal", "title": null, "scale": {"domain": ["PBS", "HDM+LPS"], "paddingInner": 0.33, "paddingOuter": 0.14},
                          "axis": {"labelAngle": 0, "labelFontSize": 13, "labelFontWeight": "bold", "labelColor": "#111", "labelPadding": 2, "domainColor": "#111", "domainWidth": 1.5, "tickColor": "#111", "tickWidth": 1.5, "tickSize": 4}},
                        "y": {"field": "mean", "type": "quantitative", "title": "percentage of cells within CD4 and IL-17A", "scale": {"domain": [0, 8], "nice": false},
                          "axis": {"values": [0, 2, 4, 6, 8], "labelFontSize": 14, "labelFontWeight": "bold", "labelColor": "#111", "labelPadding": 1, "tickSize": 4, "tickWidth": 1.5, "tickColor": "#111", "domainColor": "#111", "domainWidth": 1.5, "titleFontSize": 10.2, "titleFontWeight": "bold", "titleColor": "#222", "titleX": -27, "titleY": 73, "titleBaseline": "middle"}},
                        "color": {"field": "group", "type": "nominal", "scale": {"domain": ["PBS", "HDM+LPS"], "range": ["#1e1e1e", "#a6a6aa"]}, "legend": null}
                      }
                    },
                    {
                      "data": {"name": "bars"},
                      "transform": [{"filter": "datum.chart == 'IL-17A'"}],
                      "mark": {"type": "rule", "color": "#111", "strokeWidth": 1.6},
                      "encoding": {
                        "x": {"field": "group", "type": "nominal", "title": null},
                        "y": {"field": "mean", "type": "quantitative", "title": "percentage of cells within CD4 and IL-17A"},
                        "y2": {"field": "upper"}
                      }
                    },
                    {
                      "data": {"name": "bars"},
                      "transform": [{"filter": "datum.chart == 'IL-17A'"}],
                      "mark": {"type": "tick", "orient": "horizontal", "color": "#111", "thickness": 1.6, "size": 22},
                      "encoding": {
                        "x": {"field": "group", "type": "nominal", "title": null},
                        "y": {"field": "upper", "type": "quantitative", "title": "percentage of cells within CD4 and IL-17A"}
                      }
                    },
                    {
                      "data": {"name": "sig"},
                      "transform": [{"filter": "datum.chart == 'IL-17A'"}],
                      "mark": {"type": "rule", "color": "#111", "strokeWidth": 2},
                      "encoding": {
                        "x": {"field": "from", "type": "nominal", "title": null, "bandPosition": 0.5},
                        "x2": {"field": "to", "bandPosition": 0.5},
                        "y": {"field": "bracket", "type": "quantitative", "title": "percentage of cells within CD4 and IL-17A"}
                      }
                    },
                    {
                      "data": {"name": "sig"},
                      "transform": [{"filter": "datum.chart == 'IL-17A'"}],
                      "mark": {"type": "tick", "orient": "vertical", "color": "#111", "thickness": 2, "size": 10},
                      "encoding": {
                        "x": {"field": "from", "type": "nominal", "title": null},
                        "y": {"field": "bracket", "type": "quantitative", "title": "percentage of cells within CD4 and IL-17A"}
                      }
                    },
                    {
                      "data": {"name": "sig"},
                      "transform": [{"filter": "datum.chart == 'IL-17A'"}],
                      "mark": {"type": "tick", "orient": "vertical", "color": "#111", "thickness": 2, "size": 10},
                      "encoding": {
                        "x": {"field": "to", "type": "nominal", "title": null},
                        "y": {"field": "bracket", "type": "quantitative", "title": "percentage of cells within CD4 and IL-17A"}
                      }
                    },
                    {
                      "data": {"name": "sig"},
                      "transform": [{"filter": "datum.chart == 'IL-17A'"}],
                      "mark": {"type": "text", "fontSize": 13, "baseline": "alphabetic", "dx": 35, "dy": -6, "color": "#111"},
                      "encoding": {
                        "x": {"field": "from", "type": "nominal", "title": null},
                        "y": {"field": "bracket", "type": "quantitative", "title": "percentage of cells within CD4 and IL-17A"},
                        "text": {"field": "stars"}
                      }
                    }
                  ]
                }
              ],
              "spacing": 32
            }
          ],
          "spacing": 0
        },
        {
          "resolve": {"scale": {"color": "independent"}},
          "vconcat": [
            {"data": {"values": []}, "mark": "point", "width": 1, "height": 1, "view": {"stroke": null}},
            {
              "width": 161,
              "height": 139,
              "view": {"stroke": null},
              "title": {"text": ["BEC(young)+", "CD4⁺Naive T(young)"], "fontSize": 11.5, "fontWeight": "normal", "color": "#333", "lineHeight": 19.3, "baseline": "bottom", "offset": -9.8, "dx": -10},
              "layer": [
                {
                  "data": {"name": "bars"},
                  "transform": [{"filter": "datum.chart == 'pct'"}],
                  "mark": {"type": "bar"},
                  "encoding": {
                    "x": {"field": "group", "type": "nominal", "title": null, "scale": {"domain": ["increased cells within CD4 and IL-4", "increased cells within CD4 and IL-17A"], "paddingInner": 0.34, "paddingOuter": 0.18},
                      "axis": {"labelAngle": 0, "labelExpr": "[split(datum.label,' ')[0], split(datum.label,' ')[1], split(datum.label,' ')[2], split(datum.label,' ')[3], split(datum.label,' ')[4] + ' ' + split(datum.label,' ')[5]]", "labelFontSize": 15, "labelFontWeight": "bold", "labelColor": "#111", "labelLineHeight": 14.5, "labelPadding": 2, "labelLimit": 200, "domainColor": "#111", "domainWidth": 1.5, "tickColor": "#111", "tickWidth": 1.5, "tickSize": 5}},
                    "y": {"field": "mean", "type": "quantitative", "title": "Percentage", "scale": {"domain": [0, 60], "nice": false},
                      "axis": {"values": [0, 20, 40, 60], "labelFontSize": 14, "labelFontWeight": "bold", "labelColor": "#111", "labelPadding": 1, "tickSize": 5, "tickWidth": 1.5, "tickColor": "#111", "domainColor": "#111", "domainWidth": 1.5, "titleFontSize": 14, "titleFontWeight": "bold", "titleColor": "#111", "titleX": -39, "titleBaseline": "middle"}},
                    "color": {"field": "group", "type": "nominal", "scale": {"domain": ["increased cells within CD4 and IL-4", "increased cells within CD4 and IL-17A"], "range": ["#1e1e1e", "#a6a6aa"]}, "legend": null}
                  }
                },
                {
                  "data": {"name": "bars"},
                  "transform": [{"filter": "datum.chart == 'pct'"}],
                  "mark": {"type": "rule", "color": "#111", "strokeWidth": 1.6},
                  "encoding": {
                    "x": {"field": "group", "type": "nominal", "title": null},
                    "y": {"field": "mean", "type": "quantitative", "title": "Percentage"},
                    "y2": {"field": "upper"}
                  }
                },
                {
                  "data": {"name": "bars"},
                  "transform": [{"filter": "datum.chart == 'pct'"}],
                  "mark": {"type": "tick", "orient": "horizontal", "color": "#111", "thickness": 1.6, "size": 24},
                  "encoding": {
                    "x": {"field": "group", "type": "nominal", "title": null},
                    "y": {"field": "upper", "type": "quantitative", "title": "Percentage"}
                  }
                },
                {
                  "data": {"name": "sig"},
                  "transform": [{"filter": "datum.chart == 'pct'"}],
                  "mark": {"type": "rule", "color": "#111", "strokeWidth": 2},
                  "encoding": {
                    "x": {"field": "from", "type": "nominal", "title": null, "bandPosition": 0.5},
                    "x2": {"field": "to", "bandPosition": 0.5},
                    "y": {"field": "bracket", "type": "quantitative", "title": "Percentage"}
                  }
                },
                {
                  "data": {"name": "sig"},
                  "transform": [{"filter": "datum.chart == 'pct'"}],
                  "mark": {"type": "tick", "orient": "vertical", "color": "#111", "thickness": 2, "size": 10},
                  "encoding": {
                    "x": {"field": "from", "type": "nominal", "title": null},
                    "y": {"field": "bracket", "type": "quantitative", "title": "Percentage"}
                  }
                },
                {
                  "data": {"name": "sig"},
                  "transform": [{"filter": "datum.chart == 'pct'"}],
                  "mark": {"type": "tick", "orient": "vertical", "color": "#111", "thickness": 2, "size": 10},
                  "encoding": {
                    "x": {"field": "to", "type": "nominal", "title": null},
                    "y": {"field": "bracket", "type": "quantitative", "title": "Percentage"}
                  }
                },
                {
                  "data": {"name": "sig"},
                  "transform": [{"filter": "datum.chart == 'pct'"}],
                  "mark": {"type": "text", "fontSize": 13, "baseline": "alphabetic", "dx": 32, "dy": -10, "color": "#111"},
                  "encoding": {
                    "x": {"field": "from", "type": "nominal", "title": null},
                    "y": {"field": "bracket", "type": "quantitative", "title": "Percentage"},
                    "text": {"field": "stars"}
                  }
                }
              ]
            }
          ],
          "spacing": 7
        }
      ],
      "spacing": 16
    }
  ],
  "spacing": 9
}
